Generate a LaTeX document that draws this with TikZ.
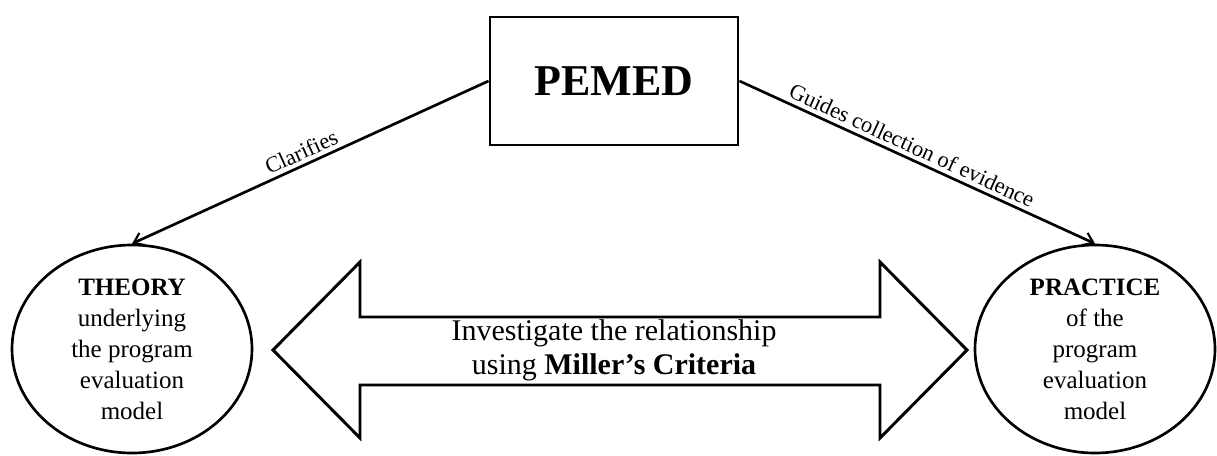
\documentclass[tikz,border=0pt]{standalone}
\usepackage{fontspec}
\setmainfont{Liberation Serif}
\usetikzlibrary{positioning,arrows.meta,shapes.geometric}

\begin{document}
\begin{tikzpicture}[
  x=0.75pt, y=-0.75pt,
  core/.style={draw, line width=2.2pt, minimum width=186pt, minimum height=96pt,
               inner sep=0pt, font=\fontsize{33}{38}\selectfont\bfseries},
  pole/.style={draw, ellipse, line width=2pt, minimum width=180pt, minimum height=156pt,
               inner sep=-12pt, align=center, font=\fontsize{18.75}{23.25}\selectfont},
  link/.style={line width=2pt, -{Straight Barb[length=7pt,width=10pt,line width=1.6pt]}},
  lbl/.style={sloped, above, inner sep=3pt, font=\fontsize{16.8}{18}\selectfont},
  bridge/.style={line width=2.2pt, line join=miter},
]
\useasboundingbox (0,0) rectangle (1217,455);
\def\ymid{350}   % axis of the double arrow
% ================= framework =================
\node[core] (pemed) at (614,81) {PEMED};

% ================= the two poles =================
\node[pole] (theory) at (132,349)
     {\textbf{THEORY}\\underlying\\the program\\evaluation\\model};
\node[pole] (practice) at (1095,349)
     {\textbf{PRACTICE}\\of the\\program\\evaluation\\model};

% ================= links from the framework =================
\draw[link] (pemed.west) -- node[lbl, pos=0.51] (clar) {Clarifies} (theory.north);
\draw[link] (pemed.east) -- node[lbl, pos=0.47] (guide) {Guides collection of evidence} (practice.north);

% ================= double arrow between theory and practice =================
\draw[bridge] (273,\ymid) -- (360,262) -- (360,317) -- (880,317) -- (880,262)
      -- (967,\ymid) -- (880,438) -- (880,385) -- (360,385) -- (360,438) -- cycle;
\node[align=center, font=\fontsize{22.5}{25.5}\selectfont] (rel) at (614,\ymid)
     {Investigate the relationship\\using \textbf{Miller’s Criteria}};
\end{tikzpicture}
\end{document}
